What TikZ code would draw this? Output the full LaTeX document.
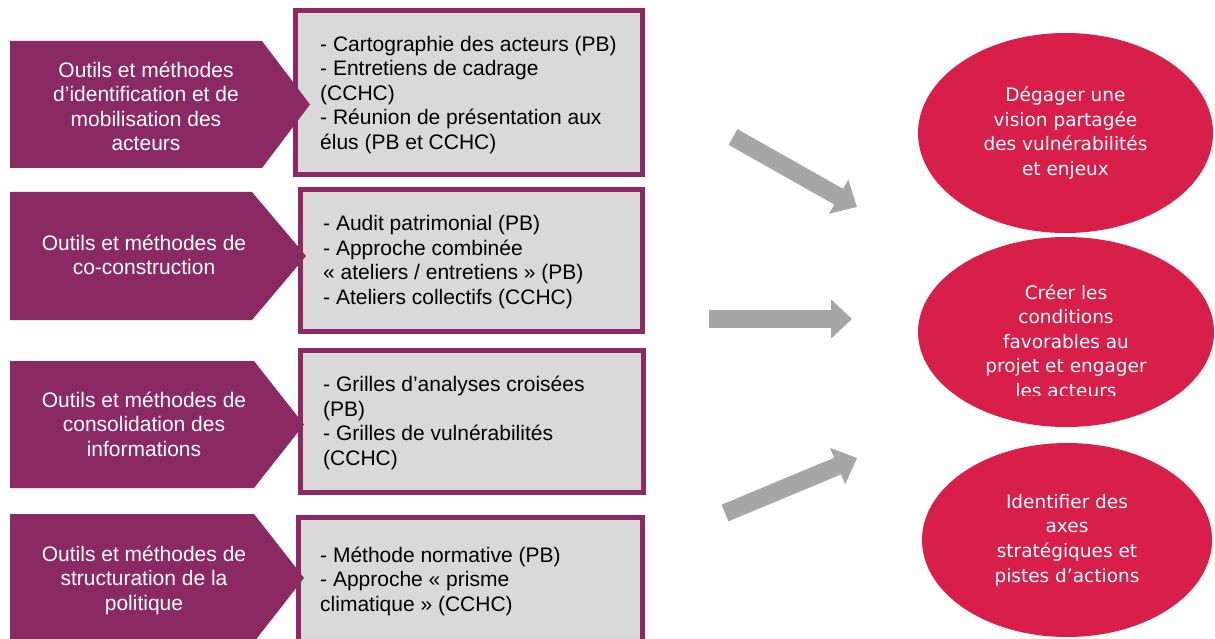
\documentclass[tikz,border=0pt]{standalone}
\usepackage{fontspec}
\setmainfont{Liberation Sans}
\newfontfamily\goalfont{DejaVu Sans}
\usetikzlibrary{shapes.geometric,arrows.meta}
\definecolor{toolpurple}{HTML}{8A2963}
\definecolor{goalred}{HTML}{D81F4A}
\definecolor{boxgray}{HTML}{D9D9D9}
\definecolor{flowgray}{HTML}{A6A6A6}
\tikzset{
  methbox/.style={draw=toolpurple, fill=boxgray, line width=5pt, inner sep=0pt},
  tooltext/.style={text=white, align=center, font=\fontsize{21}{24.5}\selectfont},
  itemtext/.style={align=left, anchor=west, inner sep=0pt, font=\fontsize{21}{24.5}\selectfont},
  goal/.style={ellipse, fill=goalred, inner sep=0pt},
  goaltext/.style={text=white, align=center, font=\goalfont\fontsize{18.5}{24.6}\selectfont},
  flow/.style={draw=flowgray, line width=18pt, -{Triangle[width=38pt,length=21pt]}}
}
\begin{document}
\begin{tikzpicture}[x=1pt, y=-1pt]
  \useasboundingbox (0,0) rectangle (1215,639);
  % method boxes
  \node[methbox, minimum width=347pt, minimum height=164pt] (b1) at (469,92.5) {};
  \node[methbox, minimum width=342pt, minimum height=142pt] (b2) at (471.5,260.5) {};
  \node[methbox, minimum width=343pt, minimum height=142pt] (b3) at (472,421.5) {};
  \node[methbox, minimum width=344pt, minimum height=140pt] (b4) at (470.5,587.5) {};
  % tool arrows (pentagons)
  \foreach \top/\tip/\sx/\tx in {41/104.5/262/310, 192/256/252/306, 361/424.5/254/304, 514/578/254/304}
    \fill[toolpurple] (10,\top) -- (\sx,\top) -- (\tx,\tip) -- (\sx,2*\tip-\top) -- (10,2*\tip-\top) -- cycle;
  \node[tooltext] (t1) at (146,106.5) {Outils et méthodes\\d’identification et de\\mobilisation des\\acteurs};
  \node[tooltext] (t2) at (144,255) {Outils et méthodes de\\co-construction};
  \node[tooltext] (t3) at (144,424) {Outils et méthodes de\\consolidation des\\informations};
  \node[tooltext] (t4) at (144,580) {Outils et méthodes de\\structuration de la\\politique};
  % box contents
  \node[itemtext] (i1) at (320,95) {- Cartographie des acteurs (PB)\\- Entretiens de cadrage\\(CCHC)\\- Réunion de présentation aux\\élus (PB et CCHC)};
  \node[itemtext] (i2) at (323,262) {- Audit patrimonial (PB)\\- Approche combinée\\« ateliers / entretiens » (PB)\\- Ateliers collectifs (CCHC)};
  \node[itemtext] (i3) at (323,423) {- Grilles d’analyses croisées\\(PB)\\- Grilles de vulnérabilités\\(CCHC)};
  \node[itemtext] (i4) at (320,581) {- Méthode normative (PB)\\- Approche « prisme\\climatique » (CCHC)};
  % grey arrows
  \coordinate (f1a) at (733,137); \coordinate (f1b) at (857,207);
  \coordinate (f2a) at (709,319); \coordinate (f2b) at (852,319);
  \coordinate (f3a) at (725,513); \coordinate (f3b) at (857,458);
  \draw[flow] (f1a) -- (f1b);
  \draw[flow] (f2a) -- (f2b);
  \draw[flow] (f3a) -- (f3b);
  % goals
  \node[goal, goaltext, minimum width=295pt, minimum height=200pt] (g1) at (1065.5,133) {Dégager une\\vision partagée\\des vulnérabilités\\et enjeux};
  \node[goal, minimum width=296pt, minimum height=190pt] (g2) at (1066,332) {};
  \begin{scope}
    \clip (900,200) rectangle (1215,395.5);
    \node[goaltext] (g2t) at (1066,341) {Créer les\\conditions\\favorables au\\projet et engager\\les acteurs};
  \end{scope}
  \node[goal, goaltext, minimum width=290pt, minimum height=194pt] (g3) at (1067,540) {Identifier des\\axes\\stratégiques et\\pistes d’actions};
\end{tikzpicture}
\end{document}
